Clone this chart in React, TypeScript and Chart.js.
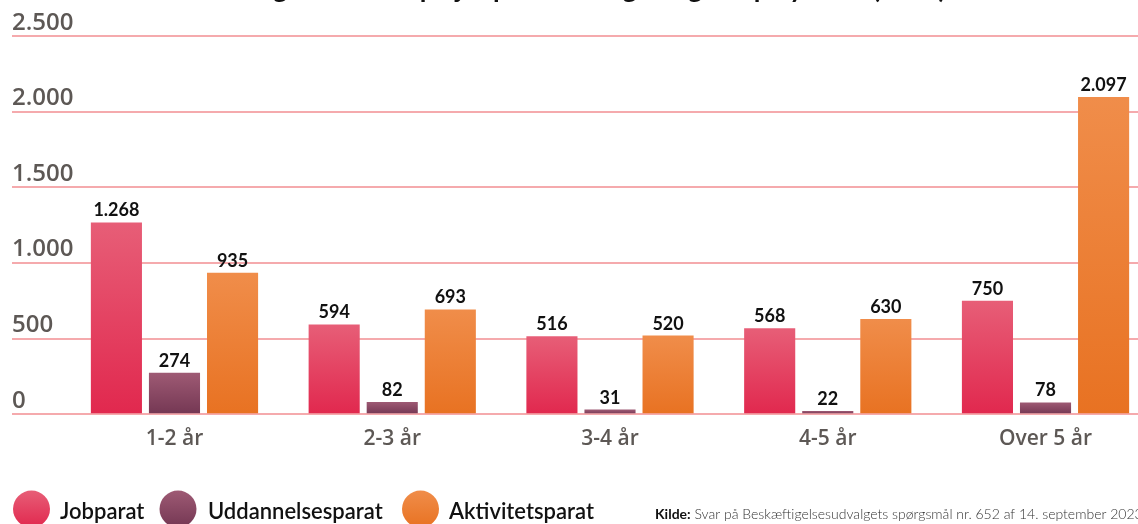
import React, { useEffect, useRef } from 'react';
import { Chart, registerables } from 'chart.js';

Chart.register(...registerables);

// ---- data ----
const categories = ['1-2 år', '2-3 år', '3-4 år', '4-5 år', 'Over 5 år'];
const jobparat = [1268, 594, 516, 568, 750];
const uddannelsesparat = [274, 82, 31, 22, 78];
const aktivitetsparat = [935, 693, 520, 630, 2097];
const seriesNames = ['Jobparat', 'Uddannelsesparat', 'Aktivitetsparat'];
const yMin = 0;
const yMax = 2500;
const yStep = 500;
const titleText = 'Borgere fordelt på jobparathed og varighed på ydelse (antal)';
const sourceLabel = 'Kilde:';
const sourceText = ' Svar på Beskæftigelsesudvalgets spørgsmål nr. 652 af 14. september 2023';

// ---- styles ----
const gradColors: [string, string][] = [
  ['#e75e77', '#e1284e'],
  ['#9e5a74', '#743753'],
  ['#f08d4a', '#e87222'],
];
const gridColor = '#f5aaad';
const axisTextColor = '#5d5855';
const CANVAS_W = 1170;
const CANVAS_H = 524;

const fmt = (v: number) => String(Math.round(v)).replace(/\B(?=(\d{3})+(?!\d))/g, '.');

export default function App() {
  const ref = useRef<HTMLCanvasElement | null>(null);

  useEffect(() => {
    const canvas = ref.current;
    if (!canvas) return;

    const barGradient = (idx: number) => (ctx: any) => {
      const chart = ctx.chart;
      const y = chart.scales && chart.scales.y;
      if (!chart.chartArea || !y || ctx.raw == null) return gradColors[idx][1];
      const top = y.getPixelForValue(ctx.raw);
      const bottom = y.getPixelForValue(0);
      const g = chart.ctx.createLinearGradient(0, top, 0, bottom);
      g.addColorStop(0, gradColors[idx][0]);
      g.addColorStop(1, gradColors[idx][1]);
      return g;
    };

    const decor = {
      id: 'decor',
      afterDatasetsDraw(chart: any) {
        const c = chart.ctx;
        c.save();
        c.font = 'bold 18px Lato';
        c.fillStyle = '#111111';
        c.textAlign = 'center';
        c.textBaseline = 'alphabetic';
        chart.data.datasets.forEach((ds: any, i: number) => {
          const meta = chart.getDatasetMeta(i);
          meta.data.forEach((el: any, j: number) => {
            c.fillText(fmt(ds.data[j]), el.x, el.y - 6);
          });
        });
        c.restore();
      },
      afterDraw(chart: any) {
        const c = chart.ctx;
        c.save();
        // y tick labels, above each grid line
        const ys = chart.scales.y;
        c.font = '600 24px "Open Sans"';
        c.fillStyle = axisTextColor;
        c.textAlign = 'left';
        c.textBaseline = 'alphabetic';
        ys.ticks.forEach((t: any) => {
          const py = ys.getPixelForValue(t.value);
          c.fillText(fmt(t.value), 12, py - 6.5);
        });

        // title (mostly cropped above the picture)
        c.font = 'bold 27px Lato';
        c.fillStyle = '#111111';
        c.textAlign = 'center';
        c.textBaseline = 'alphabetic';
        c.fillText(titleText, 588, -2);

        // legend
        const circleX = [31.5, 178, 420.5];
        const textX = [60, 208, 449];
        const cy = 509;
        const r = 18.5;
        seriesNames.forEach((name, i) => {
          const g = c.createLinearGradient(0, cy - r, 0, cy + r);
          g.addColorStop(0, gradColors[i][0]);
          g.addColorStop(1, gradColors[i][1]);
          c.beginPath();
          c.arc(circleX[i], cy, r, 0, Math.PI * 2);
          c.fillStyle = g;
          c.fill();
          c.font = '600 22px Lato';
          c.fillStyle = '#111111';
          c.textAlign = 'left';
          c.fillText(name, textX[i], 518.5);
        });

        // source
        c.textAlign = 'left';
        c.font = 'bold 14px Lato';
        c.fillStyle = '#111111';
        c.fillText(sourceLabel, 655, 519);
        const w = c.measureText(sourceLabel).width;
        c.font = '300 14px Lato';
        c.fillStyle = '#333333';
        c.fillText(sourceText, 655 + w, 519);
        c.restore();
      },
    };

    const chart = new Chart(canvas, {
      type: 'bar',
      data: {
        labels: categories,
        datasets: [
          { label: seriesNames[0], data: jobparat, backgroundColor: barGradient(0) },
          { label: seriesNames[1], data: uddannelsesparat, backgroundColor: barGradient(1) },
          { label: seriesNames[2], data: aktivitetsparat, backgroundColor: barGradient(2) },
        ],
      },
      options: {
        responsive: false,
        animation: false,
        categoryPercentage: 0.8,
        barPercentage: 0.88,
        layout: { padding: { top: 36, left: 12, right: 15.6, bottom: 0 } },
        plugins: {
          legend: { display: false },
          tooltip: { enabled: false },
          title: { display: false },
        },
        scales: {
          x: {
            grid: { display: false },
            border: { display: false },
            ticks: {
              font: { family: 'Open Sans', size: 21, weight: '600' },
              color: axisTextColor,
              padding: 4,
              maxRotation: 0,
            },
            afterFit: (s: any) => {
              s.height = 109.7;
            },
          },
          y: {
            min: yMin,
            max: yMax,
            border: { display: false },
            grid: {
              color: gridColor,
              lineWidth: 2,
              drawTicks: true,
              tickLength: 53.6,
            },
            ticks: {
              stepSize: yStep,
              display: false,
            },
            afterFit: (s: any) => {
              s.width = 53.6;
            },
          },
        },
      },
      plugins: [decor],
    } as any);

    return () => chart.destroy();
  }, []);

  return (
    <div
      style={{
        position: 'absolute',
        left: 0,
        top: 0,
        width: 1138,
        height: 524,
        overflow: 'hidden',
        background: '#ffffff',
      }}
    >
      <canvas ref={ref} width={CANVAS_W} height={CANVAS_H} style={{ display: 'block', width: CANVAS_W, height: CANVAS_H }} />
    </div>
  );
}
